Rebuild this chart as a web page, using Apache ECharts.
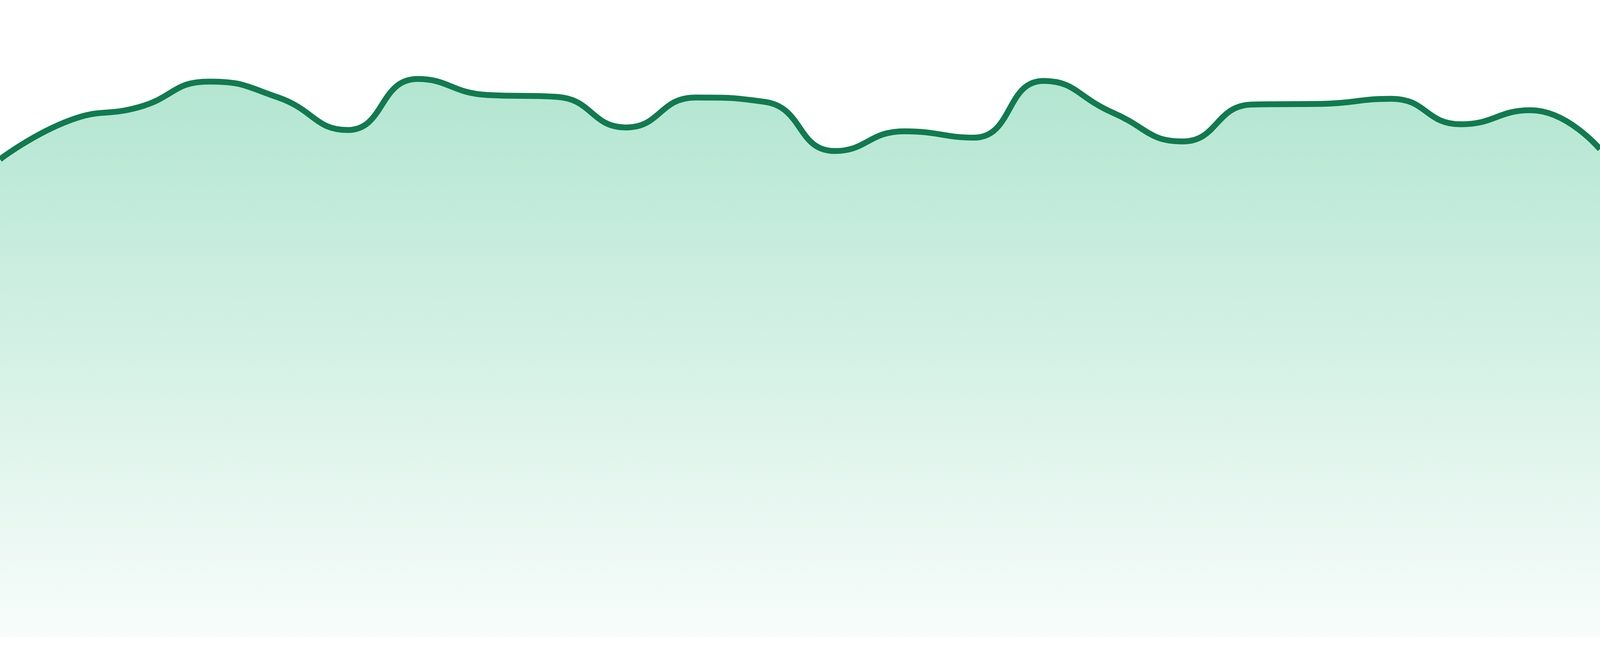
<!DOCTYPE html>
<html>
<head>
<meta charset="utf-8">
<script src="https://cdn.jsdelivr.net/npm/echarts@6/dist/echarts.min.js"></script>
<style>
  html, body { margin: 0; padding: 0; background: #ffffff; width: 100%; height: 100%; overflow: hidden; }
  #chart { width: 100vw; height: 100vh; }
</style>
</head>
<body>
<div id="chart"></div>
<script>
const categories = ['1','2','3','4','5','6','7','8','9','10','11','12','13','14','15','16','17','18','19','20','21','22','23','24'];
const values = [75.0, 81.1, 83.2, 87.2, 84.7, 79.6, 87.6, 85.1, 84.8, 80.0, 84.7, 84.0, 76.3, 79.4, 78.4, 87.3, 82.3, 77.8, 83.6, 83.7, 84.5, 80.5, 82.7, 76.6];
const yMin = 0;
const yMax = 100;

const chart = echarts.init(document.getElementById('chart'), null, { renderer: 'canvas' });
chart.setOption({
  animation: false,
  backgroundColor: '#ffffff',
  grid: { left: 0, right: 0, top: 0, bottom: 48, containLabel: false },
  xAxis: { type: 'category', data: categories, boundaryGap: false, show: false },
  yAxis: { type: 'value', min: yMin, max: yMax, show: false, splitLine: { show: false } },
  series: [{
    type: 'line', data: values, smooth: true, symbol: 'none',
    lineStyle: { color: '#117a4f', width: 15 },
    areaStyle: {
      opacity: 1,
      color: new echarts.graphic.LinearGradient(0, 0, 0, 1, [
        { offset: 0, color: 'rgba(30,180,120,0.34)' },
        { offset: 1, color: 'rgba(30,180,120,0.03)' }
      ])
    }
  }]
});
window.addEventListener('resize', function () { chart.resize(); });
</script>
</body>
</html>
